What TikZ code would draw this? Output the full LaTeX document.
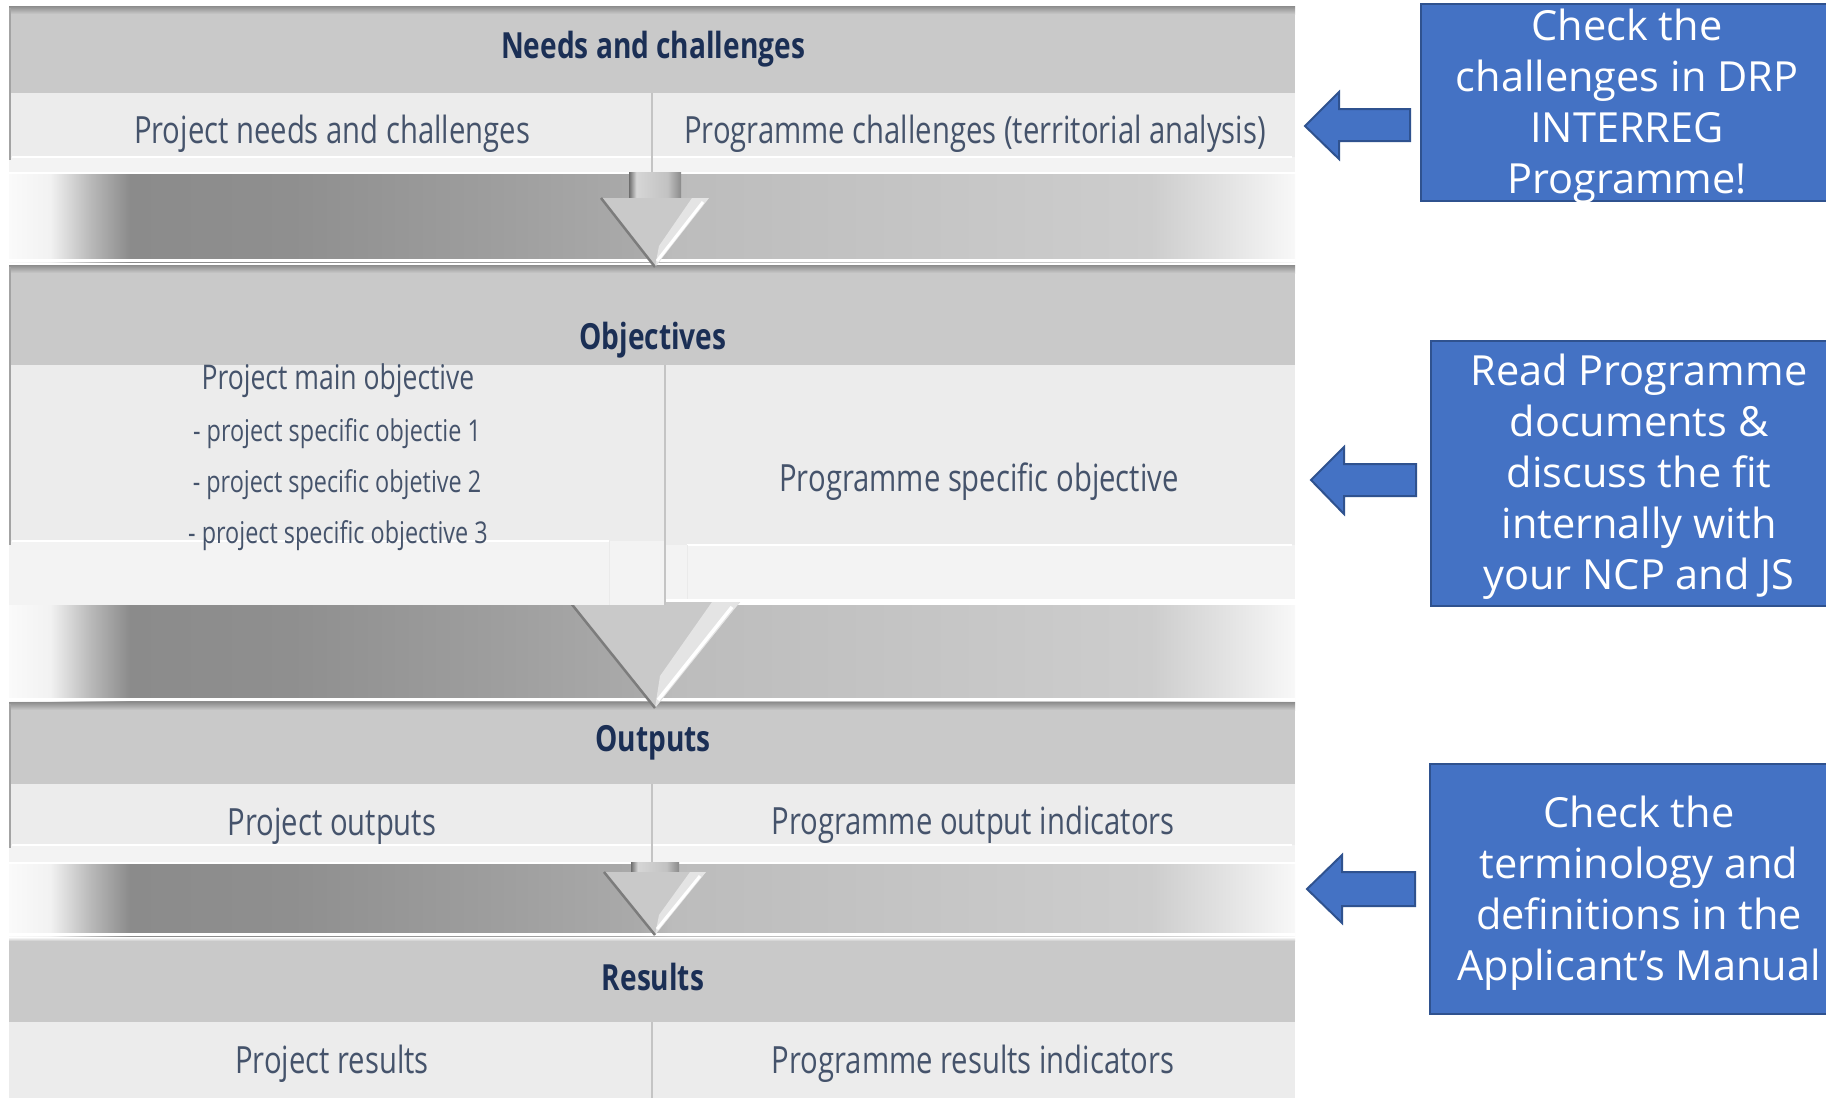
\documentclass[tikz,border=0pt]{standalone}
\usepackage{fontspec}
\setmainfont{Open Sans}
\newfontfamily\condfont[FakeStretch=0.78]{Open Sans}
\newfontfamily\notefont{Open Sans}

\definecolor{hdrtext}{HTML}{1B2F55}
\definecolor{rowtext}{HTML}{45536B}
\definecolor{hdrfill}{HTML}{C9C9C9}
\definecolor{hdredge}{HTML}{8C8C8C}
\definecolor{rowfill}{HTML}{ECECEC}
\definecolor{rowlight}{HTML}{F3F3F3}
\definecolor{divline}{HTML}{C4C4C4}
\definecolor{boxblue}{HTML}{4472C4}
\definecolor{boxedge}{HTML}{2F528F}
\definecolor{headface}{HTML}{C9C9C9}
\definecolor{headlit}{HTML}{E4E4E4}
\definecolor{headdark}{HTML}{7C7C7C}
% colour stops of the grey band between two blocks
\definecolor{gsA}{HTML}{FAFAFA}
\definecolor{gsB}{HTML}{F2F2F2}
\definecolor{gsC}{HTML}{B8B8B8}
\definecolor{gsD}{HTML}{8B8B8B}
\definecolor{gsE}{HTML}{8F8F8F}
\definecolor{gsF}{HTML}{9E9E9E}
\definecolor{gsG}{HTML}{AAAAAA}
\definecolor{gsH}{HTML}{BCBCBC}
\definecolor{gsI}{HTML}{CDCDCD}
\definecolor{gsJ}{HTML}{E4E4E4}
\definecolor{gsK}{HTML}{F8F8F8}
% colour stops across an arrow shaft
\definecolor{shA}{HTML}{6E6E6E}
\definecolor{shB}{HTML}{D6D6D6}
\definecolor{shC}{HTML}{C2C2C2}
\definecolor{shD}{HTML}{8A8A8A}

\pgfdeclarehorizontalshading{gapshade}{100bp}{%
  color(0bp)=(gsA); color(25bp)=(gsA); color(26.6bp)=(gsB);
  color(28.2bp)=(gsC); color(29.7bp)=(gsD); color(36bp)=(gsE);
  color(44bp)=(gsF); color(49.5bp)=(gsG); color(50.8bp)=(gsH);
  color(69.4bp)=(gsI); color(72.5bp)=(gsJ); color(75bp)=(gsK);
  color(100bp)=(gsK)}
\pgfdeclarehorizontalshading{shaftshade}{100bp}{%
  color(0bp)=(shA); color(25bp)=(shA); color(32bp)=(shB);
  color(62bp)=(shC); color(75bp)=(shD); color(100bp)=(shD)}

\tikzset{
  hdr/.style={font=\condfont\bfseries\fontsize{36}{36}\selectfont, text=hdrtext, anchor=base, inner sep=0pt},
  rowlbl/.style={font=\condfont\fontsize{37.5}{37.5}\selectfont, text=rowtext, anchor=base, inner sep=0pt},
  mainobj/.style={font=\condfont\fontsize{34}{34}\selectfont, text=rowtext, anchor=base, inner sep=0pt},
  subobj/.style={font=\condfont\fontsize{30}{30}\selectfont, text=rowtext, anchor=base, inner sep=0pt},
  notebox/.style={draw=boxedge, fill=boxblue, line width=2.5pt},
  notetext/.style={font=\notefont\fontsize{41.5}{51}\selectfont, text=white, align=center, inner sep=0pt},
  notearrow/.style={draw=boxedge, fill=boxblue, line width=2pt, line join=miter},
  band/.style={shading=gapshade},
  hdrbar/.style={fill=hdrfill},
  rowbar/.style={fill=rowfill},
  divider/.style={draw=divline, line width=1.3pt},
  edge/.style={draw=hdredge!80, line width=2.5pt},
  shaft/.style={shading=shaftshade},
}

\begin{document}
\begin{tikzpicture}[x=1pt,y=-1pt]
\clip (0,0) rectangle (1826,1098);
\fill[white] (0,0) rectangle (1826,1098);

% ---------- grey bands between the blocks
\foreach \a/\b in {174/262, 605/701, 864/936}{
  \shade[band] (9,\a) rectangle (1295,\b);
  \fill[white] (9,\b-3) rectangle (1295,\b);
}

% ---------- block headers
\foreach \t/\b in {6/93, 265/365, 702/784}{
  \fill[hdrbar] (9,\t) rectangle (1295,\b);
  \shade[top color=hdredge, bottom color=hdrfill] (9,\t) rectangle (1295,\t+8);
}
\fill[hdrbar] (9,937) rectangle (1295,1022);
\shade[top color=white, bottom color=hdrfill] (9,937) rectangle (1295,941);

% ---------- down arrows in the bands
% first band
\shade[shaft] (629,168) rectangle (681,199);
\fill[headface] (601,198) -- (709,198) -- (655,267) -- cycle;
\fill[headlit] (655,267) -- (709,198) -- (692,198) -- (659,246) -- cycle;
\draw[headdark, line width=2.5pt] (601,198) -- (655,267);
\draw[white, line width=3pt] (703,202) -- (657,261);
% second band
\fill[headface] (570,602) -- (740,602) -- (655,708) -- cycle;
\fill[headlit] (655,708) -- (740,602) -- (712,602) -- (660,676) -- cycle;
\draw[headdark, line width=2.5pt] (570,602) -- (655,708);
\draw[white, line width=3.5pt] (732,607) -- (658,700);
% third band
\shade[shaft] (631,850) rectangle (679,873);
\fill[headface] (604,872) -- (706,872) -- (655,935) -- cycle;
\fill[headlit] (655,935) -- (706,872) -- (690,872) -- (659,915) -- cycle;
\draw[headdark, line width=2.5pt] (604,872) -- (655,935);
\draw[white, line width=3pt] (700,876) -- (657,929);

% ---------- rows of each block
\fill[rowbar] (9,93) rectangle (1295,172);
\fill[rowlight] (9,157) rectangle (1295,172);
\draw[white, line width=1.5pt] (12,157) -- (1292,157);
\draw[divider] (652,93) -- (652,172);

\fill[rowbar] (9,365) rectangle (665,605);
\fill[rowbar] (665,365) rectangle (1295,599);
\fill[rowlight] (9,541) rectangle (665,605);
\fill[rowlight] (665,545) rectangle (1295,599);
\draw[white, line width=2pt] (12,541) -- (609,541);
\draw[white, line width=2pt] (687,545) -- (1292,545);
\draw[divline!35, line width=1pt] (609,541) -- (609,605);
\draw[divline!35, line width=1pt] (687,545) -- (687,599);
\draw[divider] (665,365) -- (665,605);

\fill[rowbar] (9,784) rectangle (1295,862);
\fill[rowlight] (9,845) rectangle (1295,862);
\draw[white, line width=1.5pt] (12,845) -- (1292,845);
\draw[divider] (652,784) -- (652,862);

\fill[rowbar] (9,1022) rectangle (1295,1098);
\draw[divider] (652,1022) -- (652,1098);

% left edges of the raised blocks
\draw[edge] (10,8) -- (10,160);
\draw[edge] (10,267) -- (10,545);
\draw[edge] (10,704) -- (10,848);

% ---------- texts of the blocks
\node[hdr] (needs) at (653,58) {Needs and challenges};
\node[rowlbl] (pneeds) at (332,143) {Project needs and challenges};
\node[rowlbl] (pgchal) at (975,143) {Programme challenges (territorial analysis)};

\node[hdr] (objs) at (653,349) {Objectives};
\node[mainobj] (pmain) at (338,389) {Project main objective};
\node[subobj] (pso1) at (337,441) {- project specific objectie 1};
\node[subobj] (pso2) at (337,492) {- project specific objetive 2};
\node[subobj] (pso3) at (338,543) {- project specific objective 3};
\node[rowlbl] (pgso) at (979,491) {Programme specific objective};

\node[hdr] (outs) at (653,751) {Outputs};
\node[rowlbl] (pout) at (332,835) {Project outputs};
\node[rowlbl] (pgout) at (973,834) {Programme output indicators};

\node[hdr] (res) at (653,990) {Results};
\node[rowlbl] (pres) at (332,1073) {Project results};
\node[rowlbl] (pgres) at (973,1073) {Programme results indicators};

% ---------- notes on the right
\draw[notebox] (1421,4) rectangle (1860,201);
\node[notetext] (noteA) at (1627,106) {Check the\\challenges in DRP\\INTERREG\\Programme!};
\draw[notearrow] (1305,126) -- (1339,92) -- (1339,109) -- (1410,109)
  -- (1410,141) -- (1339,141) -- (1339,159) -- cycle;

\draw[notebox] (1431,341) rectangle (1860,606);
\node[notetext] (noteB) at (1639,477) {Read Programme\\documents \&\\discuss the fit\\internally with\\your NCP and JS};
\draw[notearrow] (1311,480) -- (1344,447) -- (1344,464) -- (1416,464)
  -- (1416,496) -- (1344,496) -- (1344,514) -- cycle;

\draw[notebox] (1430,764) rectangle (1860,1014);
\node[notetext] (noteC) at (1639,893) {Check the\\terminology and\\definitions in the\\Applicant’s Manual};
\draw[notearrow] (1307,889) -- (1342,855) -- (1342,872) -- (1415,872)
  -- (1415,906) -- (1342,906) -- (1342,923) -- cycle;
\end{tikzpicture}
\end{document}
